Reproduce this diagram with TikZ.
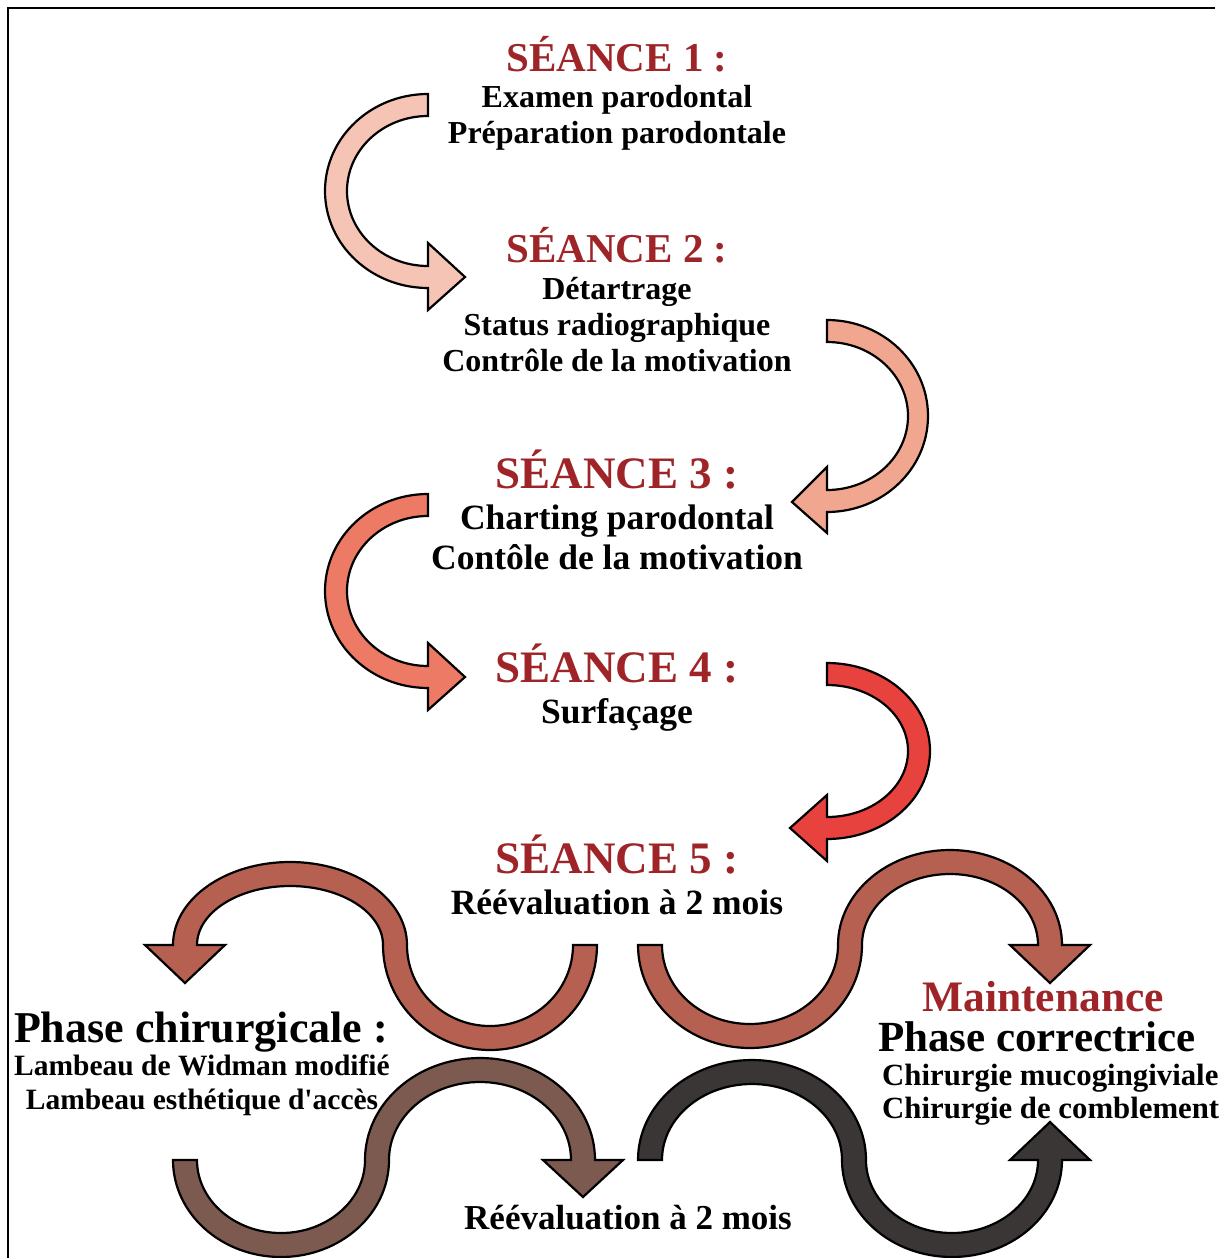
\documentclass[tikz,border=0pt]{standalone}
\usepackage{fontspec}
\setmainfont{Liberation Serif}[Ligatures=TeXOff]
\definecolor{seancered}{RGB}{158,36,40}
\definecolor{aone}{RGB}{246,196,180}
\definecolor{atwo}{RGB}{241,166,144}
\definecolor{athree}{RGB}{237,122,100}
\definecolor{afour}{RGB}{232,66,62}
\definecolor{abrick}{RGB}{181,96,80}
\definecolor{abrown}{RGB}{124,90,80}
\definecolor{adark}{RGB}{58,54,54}
\tikzset{
  bandarrow/.style={draw=black, line width=2.2pt, line join=miter},
  txt/.style={anchor=base, inner sep=0pt, font=\bfseries},
  title/.style={txt, text=seancered},
}
\newcommand{\fs}[1]{\fontsize{#1}{#1}\selectfont\bfseries}
\begin{document}
\begin{tikzpicture}[x=1pt,y=-1pt]
\useasboundingbox (0,0) rectangle (1221,1258);
\fill[white] (0,0) rectangle (1221,1258);
% frame
\draw[line width=2.2pt] (8,1260) -- (8,8) -- (1215,8);

% arrow 1
\path[bandarrow, fill=aone] (428,94) arc[start angle=270,end angle=90,x radius=103,y radius=97]
  -- (428,310) -- (465,277) -- (428,243) -- (428,266)
  arc[start angle=90,end angle=270,x radius=81,y radius=75] -- cycle;
% arrow 2
\path[bandarrow, fill=atwo] (827,320) arc[start angle=270,end angle=450,x radius=101,y radius=96]
  -- (827,533) -- (792,502) -- (827,467) -- (827,490)
  arc[start angle=90,end angle=-90,x radius=81,y radius=74] -- cycle;
% arrow 3
\path[bandarrow, fill=athree] (428,494) arc[start angle=270,end angle=90,x radius=103,y radius=97]
  -- (428,710) -- (465,677) -- (428,643) -- (428,666)
  arc[start angle=90,end angle=270,x radius=81,y radius=75] -- cycle;
% arrow 4
\path[bandarrow, fill=afour] (827,663) arc[start angle=270,end angle=450,x radius=103,y radius=88]
  -- (827,861) -- (790,828) -- (827,795) -- (827,817)
  arc[start angle=90,end angle=-90,x radius=81,y radius=66] -- cycle;

% left S arrow
\path[bandarrow, fill=abrick] (597,945) arc[start angle=0,end angle=180,x radius=107,y radius=105]
  arc[start angle=0,end angle=-180,x radius=93,y radius=59]
  -- (225,945) -- (185,983) -- (145,945) -- (173,945)
  arc[start angle=180,end angle=360,x radius=117,y radius=83]
  arc[start angle=180,end angle=0,x radius=83,y radius=81] -- cycle;
% right S arrow
\path[bandarrow, fill=abrick] (638,945) arc[start angle=180,end angle=0,x radius=112,y radius=103]
  arc[start angle=180,end angle=360,x radius=88,y radius=71]
  -- (1010,945) -- (1050,983) -- (1090,945) -- (1062,945)
  arc[start angle=0,end angle=-180,x radius=112,y radius=95]
  arc[start angle=0,end angle=180,x radius=88,y radius=79] -- cycle;
% bottom-left S arrow
\path[bandarrow, fill=abrown] (173,1160) arc[start angle=180,end angle=0,x radius=108,y radius=97]
  arc[start angle=180,end angle=360,x radius=91,y radius=78]
  -- (543,1160) -- (583,1197) -- (623,1160) -- (595,1160)
  arc[start angle=0,end angle=-180,x radius=115,y radius=102]
  arc[start angle=0,end angle=180,x radius=84,y radius=73] -- cycle;
% bottom-right S arrow
\path[bandarrow, fill=adark] (638,1160) arc[start angle=180,end angle=360,x radius=114,y radius=100]
  arc[start angle=180,end angle=0,x radius=86,y radius=73]
  -- (1010,1160) -- (1050,1122) -- (1090,1160) -- (1062,1160)
  arc[start angle=0,end angle=180,x radius=110,y radius=97]
  arc[start angle=0,end angle=-180,x radius=90,y radius=76] -- cycle;

% texts
\node[title, font=\fs{41}] (s1) at (617,71) {SÉANCE 1 :};
\node[txt, font=\fs{32}] (s1a) at (617,107) {Examen parodontal};
\node[txt, font=\fs{32}] (s1b) at (617,143) {Préparation parodontale};
\node[title, font=\fs{41}] (s2) at (617,262) {SÉANCE 2 :};
\node[txt, font=\fs{32}] (s2a) at (617,299) {Détartrage};
\node[txt, font=\fs{32}] (s2b) at (617,335) {Status radiographique};
\node[txt, font=\fs{32}] (s2c) at (617,371) {Contrôle de la motivation};
\node[title, font=\fs{45}] (s3) at (617,488) {SÉANCE 3 :};
\node[txt, font=\fs{35.5}] (s3a) at (617,529) {Charting parodontal};
\node[txt, font=\fs{35.5}] (s3b) at (617,569) {Contôle de la motivation};
\node[title, font=\fs{45}] (s4) at (617,682) {SÉANCE 4 :};
\node[txt, font=\fs{35.5}] (s4a) at (617,723) {Surfaçage};
\node[title, font=\fs{45}] (s5) at (617,873) {SÉANCE 5 :};
\node[txt, font=\fs{35.5}] (s5a) at (617,914) {Réévaluation à 2 mois};
\node[txt, font=\fs{44}] (pc) at (201,1042) {Phase chirurgicale :};
\node[txt, font=\fs{29.5}] (pca) at (202,1075) {Lambeau de Widman modifié};
\node[txt, font=\fs{29.5}] (pcb) at (202,1109) {Lambeau esthétique d'accès};
\node[title, font=\fs{43.5}] (mt) at (1043,1011) {Maintenance};
\node[txt, font=\fs{43}] (pr) at (1037,1051) {Phase correctrice};
\node[txt, font=\fs{30.8}, anchor=base west] (pra) at (882,1085) {Chirurgie mucogingiviale};
\node[txt, font=\fs{30.8}, anchor=base west] (prb) at (882,1118) {Chirurgie de comblement};
\node[txt, font=\fs{35}] (rv) at (628,1229) {Réévaluation à 2 mois};
\end{tikzpicture}
\end{document}
